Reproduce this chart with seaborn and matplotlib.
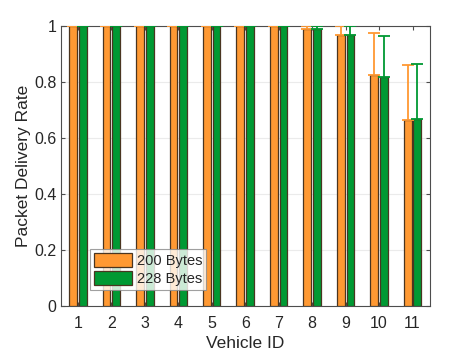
import numpy as np
import pandas as pd
import matplotlib
matplotlib.use('Agg')
import matplotlib.pyplot as plt
import seaborn as sns

vehicles = [str(i) for i in range(1, 12)]
pdr_200 = [1.0, 1.0, 1.0, 1.0, 1.0, 1.0, 1.0, 0.99, 0.968, 0.826, 0.664]
pdr_228 = [1.0, 1.0, 1.0, 1.0, 1.0, 1.0, 1.0, 0.988, 0.966, 0.818, 0.667]
err_200 = [0.0, 0.0, 0.0, 0.0, 0.0, 0.0, 0.0, 0.01, 0.032, 0.15, 0.197]
err_228 = [0.0, 0.0, 0.0, 0.0, 0.0, 0.0, 0.0, 0.012, 0.034, 0.147, 0.197]

df = pd.DataFrame({
    'vehicle': vehicles * 2,
    'pdr': pdr_200 + pdr_228,
    'size': ['200 Bytes'] * 11 + ['228 Bytes'] * 11,
})

sns.set_style('white')
plt.rcParams['font.family'] = ['Liberation Sans', 'DejaVu Sans']

colors = {'200 Bytes': '#FF9933', '228 Bytes': '#009933'}
fig = plt.figure(figsize=(4.74, 3.54), dpi=100)
ax = fig.add_axes([0.129, 0.136, 0.778, 0.791])

sns.barplot(data=df, x='vehicle', y='pdr', hue='size', palette=colors,
            saturation=1, width=0.58, gap=0.2, edgecolor='#4a3520',
            linewidth=0.9, errorbar=None, ax=ax, zorder=3)

# error bars (upper part visible above bars)
errs = {'200 Bytes': err_200, '228 Bytes': err_228}
vals = {'200 Bytes': pdr_200, '228 Bytes': pdr_228}
for cont, name in zip(ax.containers, ['200 Bytes', '228 Bytes']):
    xs = [p.get_x() + p.get_width() / 2 for p in cont.patches]
    ax.errorbar(xs, vals[name], yerr=[np.zeros(11), errs[name]], fmt='none',
                ecolor=colors[name], elinewidth=1.3, capsize=4, capthick=1.3,
                zorder=4)

ax.set_xlim(-0.5, 10.52)
ax.set_ylim(0, 1)
ax.set_yticks([0, 0.2, 0.4, 0.6, 0.8, 1.0])
ax.set_yticklabels(['0', '0.2', '0.4', '0.6', '0.8', '1'])
ax.yaxis.grid(True, color='#ebebeb', linewidth=0.8, zorder=0)
ax.set_axisbelow(True)
for s in ax.spines.values():
    s.set_color('#4d4d4d')
    s.set_linewidth(0.8)
ax.tick_params(axis='both', direction='in', length=3, color='#4d4d4d',
               labelsize=11.5, labelcolor='#262626', top=True, right=True,
               bottom=True, left=True)
ax.tick_params(axis='x', pad=7)
ax.set_xlabel('Vehicle ID', fontsize=12.5, color='#262626', labelpad=4)
ax.set_ylabel('Packet Delivery Rate', fontsize=12.5, color='#262626', labelpad=2)

leg = ax.legend(loc='lower left', bbox_to_anchor=(0.078, 0.055), fontsize=10.5,
                frameon=True, fancybox=False, edgecolor='#888888',
                handlelength=2.6, handleheight=1.1, borderpad=0.3,
                labelspacing=0.2, handletextpad=0.3, borderaxespad=0)
leg.get_frame().set_linewidth(0.8)

fig.savefig('out.png', dpi=100)
